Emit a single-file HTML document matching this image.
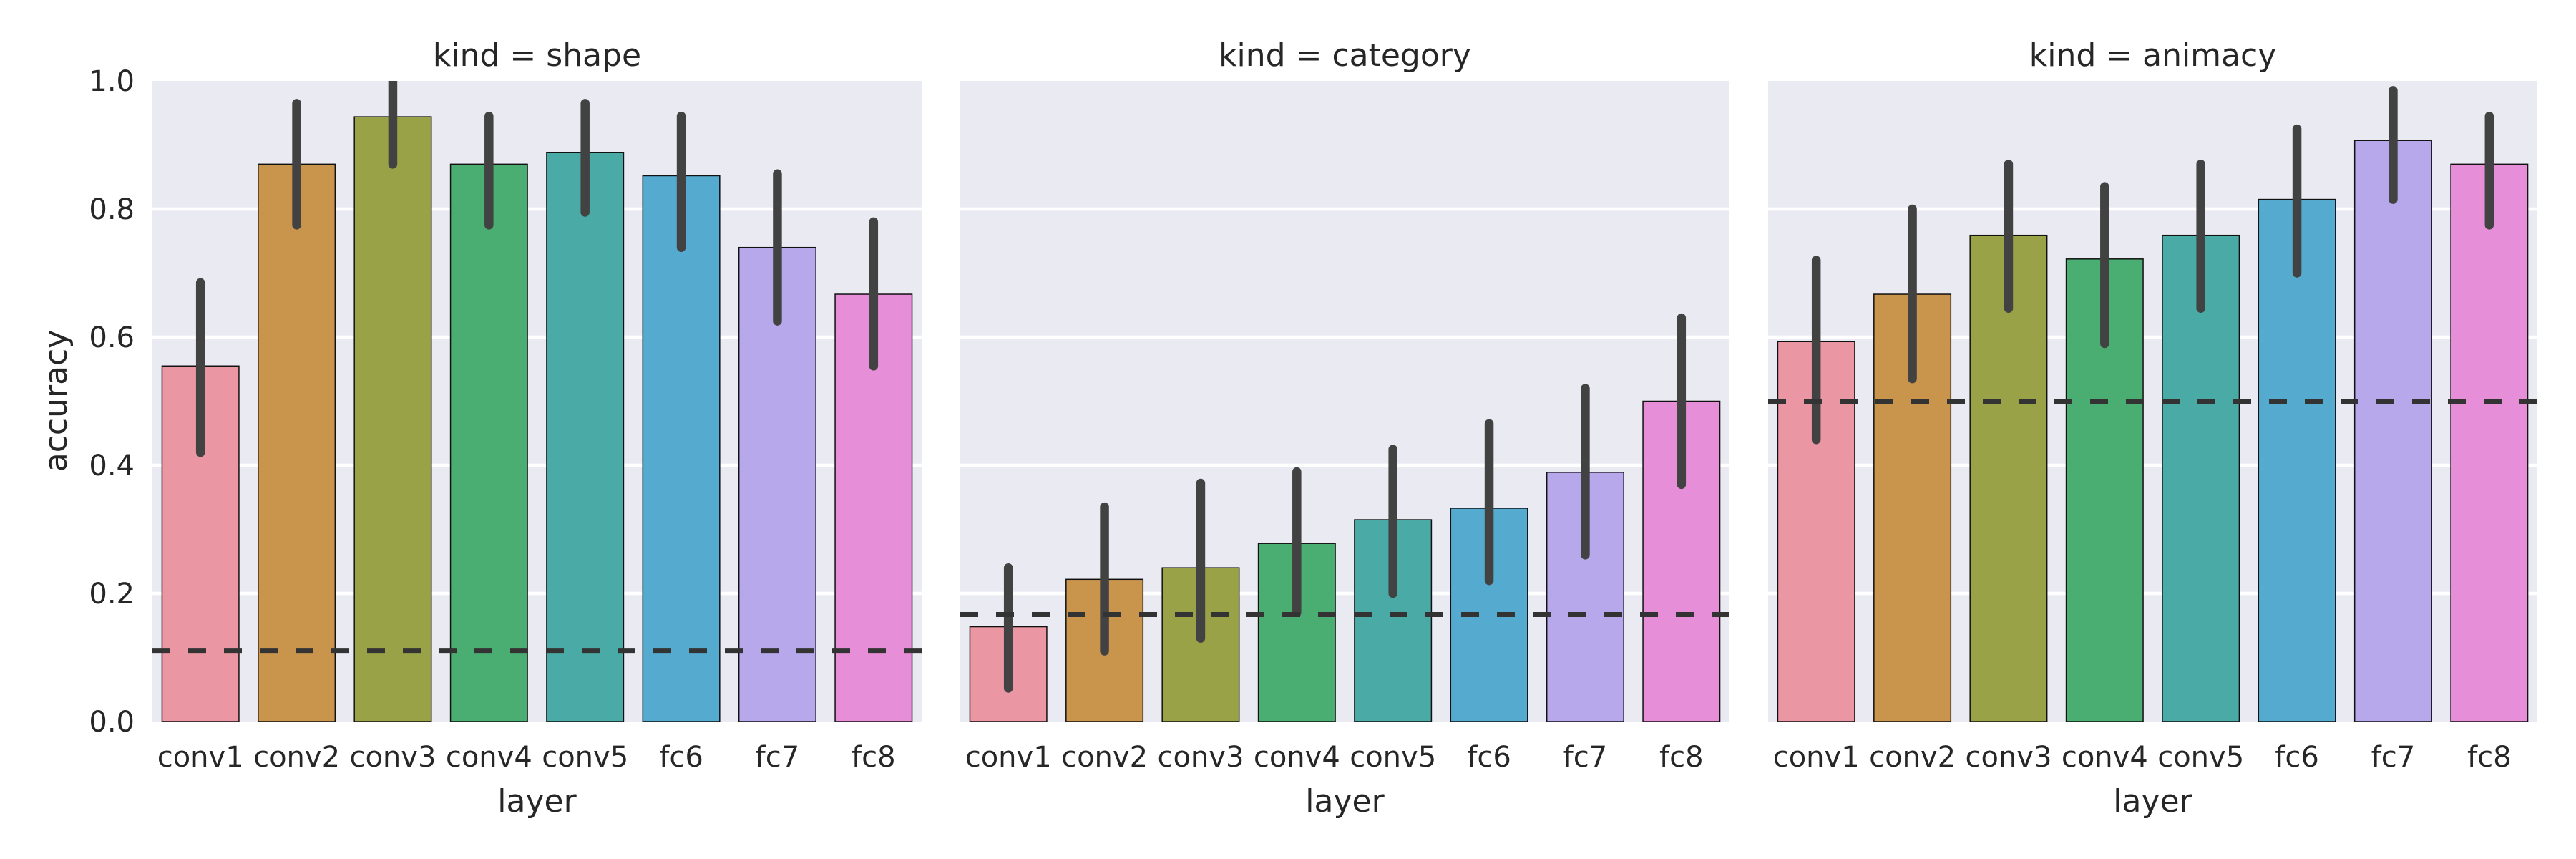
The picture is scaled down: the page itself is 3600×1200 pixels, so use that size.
<!DOCTYPE html>
<html><head><meta charset="utf-8"><style>
html,body{margin:0;padding:0;background:#fff}
svg{display:block}
text{font-family:"DejaVu Sans","Liberation Sans",sans-serif;fill:#262626}
</style></head><body>
<svg id="chart" width="3600" height="1200" viewBox="0 0 3600 1200" xmlns="http://www.w3.org/2000/svg"></svg>
<script>
const categories = ["conv1","conv2","conv3","conv4","conv5","fc6","fc7","fc8"];
const panelKinds = ["shape","category","animacy"];
const shapeValues = [0.555,0.870,0.944,0.870,0.888,0.852,0.740,0.667];
const shapeLow = [0.420,0.775,0.870,0.775,0.795,0.740,0.625,0.555];
const shapeHigh = [0.685,0.965,1.000,0.945,0.965,0.945,0.855,0.780];
const categoryValues = [0.148,0.222,0.240,0.278,0.315,0.333,0.389,0.500];
const categoryLow = [0.052,0.110,0.130,0.170,0.200,0.220,0.260,0.370];
const categoryHigh = [0.240,0.335,0.372,0.390,0.425,0.465,0.520,0.630];
const animacyValues = [0.593,0.667,0.759,0.722,0.759,0.815,0.907,0.870];
const animacyLow = [0.440,0.535,0.645,0.590,0.645,0.700,0.815,0.775];
const animacyHigh = [0.720,0.800,0.870,0.835,0.870,0.925,0.985,0.945];
const chanceLevels = [0.111,0.167,0.5];
const yTicks = [0.0,0.2,0.4,0.6,0.8,1.0];
const yTickLabels = ["0.0","0.2","0.4","0.6","0.8","1.0"];

const colors = ["#ea96a3","#c9954c","#9aa247","#4aae72","#4aaaa5","#55abcf","#b7a8ec","#e68fd8"];
const values = [shapeValues,categoryValues,animacyValues];
const lows = [shapeLow,categoryLow,animacyLow];
const highs = [shapeHigh,categoryHigh,animacyHigh];
const NS="http://www.w3.org/2000/svg";
const svg=document.getElementById('chart');
const panelLefts=[213,1342,2471], PW=1075, TOP=113, BOT=1008;
function y(v){return BOT-(BOT-TOP)*v;}
function mk(tag,attrs,parent){const e=document.createElementNS(NS,tag);for(const k in attrs)e.setAttribute(k,attrs[k]);(parent||svg).appendChild(e);return e;}

panelKinds.forEach((kind,p)=>{
  const L=panelLefts[p];
  const band=PW/categories.length;
  const x=i=>L+band*(i+0.5);
  const g=mk('g',{});
  
  
  const bg=mk('rect',{x:L,y:TOP,width:PW,height:BOT-TOP,fill:'#eaeaf2'},g);
  
  
  yTicks.forEach((t,i)=>{
    if(t>0&&t<1){
      const gl=mk('line',{x1:L,x2:L+PW,y1:y(t),y2:y(t),stroke:'#fff','stroke-width':4.5},g);
      
      
    }
    if(p===0){
      const tl=mk('text',{x:188,y:y(t)+14,'text-anchor':'end','font-size':40},g);
      tl.textContent=yTickLabels[i];
      
      
    }
  });
  const bw=band*0.8;
  categories.forEach((c,i)=>{
    const v=values[p][i];
    const r=mk('rect',{x:x(i)-bw/2,y:y(v),width:bw,height:y(0)-y(v),fill:colors[i],stroke:'#111','stroke-width':1.5},g);
    
    
  });
  categories.forEach((c,i)=>{
    const e=mk('line',{x1:x(i),x2:x(i),y1:y(lows[p][i]),y2:y(highs[p][i]),stroke:'#424242','stroke-width':12.5,'stroke-linecap':'round'},g);
    
    
  });
  const d=mk('line',{x1:L,x2:L+PW,y1:y(chanceLevels[p]),y2:y(chanceLevels[p]),stroke:'#333','stroke-width':7,'stroke-dasharray':'25 25'},g);
  
  
  // clip top overflow (error bars capped at axes)
  const cover=mk('rect',{x:L-10,y:0,width:PW+20,height:TOP,fill:'#fff'},g);
  
  
  categories.forEach((c,i)=>{
    const t=mk('text',{x:x(i),y:1071,'text-anchor':'middle','font-size':40},g);
    t.textContent=c;
    
    
  });
  const xl=mk('text',{x:L+PW/2,y:1134,'text-anchor':'middle','font-size':44},g);
  xl.textContent='layer';
  
  
  const tt=mk('text',{x:L+PW/2,y:92,'text-anchor':'middle','font-size':44},g);
  tt.textContent='kind = '+kind;
  
  
});
const yl=mk('text',{x:0,y:0,'text-anchor':'middle','font-size':44,transform:'translate(93,560) rotate(-90)'});
yl.textContent='accuracy';


</script>
</body></html>
